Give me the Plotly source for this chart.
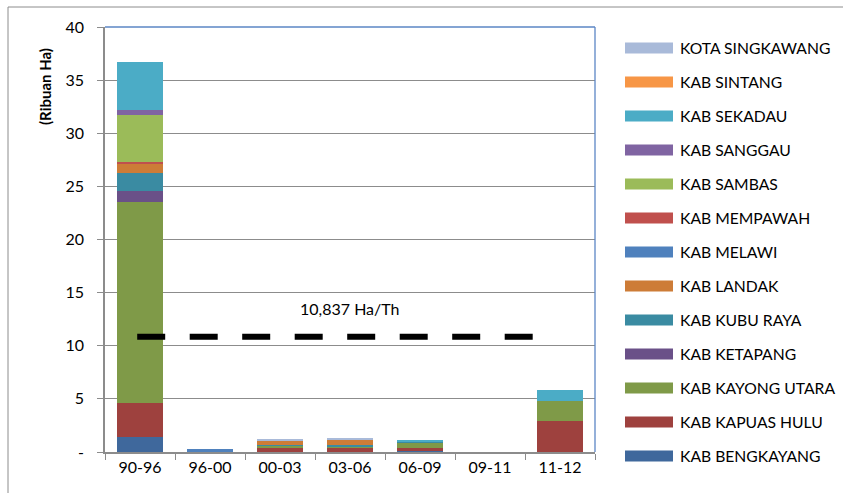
import plotly.graph_objects as go

# ---- data (thousand ha) ----
categories = ["90-96", "96-00", "00-03", "03-06", "06-09", "09-11", "11-12"]

kab_bengkayang   = [1.45, 0.00, 0.00, 0.00, 0.10, 0.00, 0.00]
kab_kapuas_hulu  = [3.17, 0.00, 0.35, 0.40, 0.25, 0.00, 2.92]
kab_kayong_utara = [18.89, 0.00, 0.30, 0.15, 0.50, 0.00, 1.88]
kab_ketapang     = [1.10, 0.00, 0.00, 0.00, 0.00, 0.00, 0.00]
kab_kubu_raya    = [1.63, 0.00, 0.05, 0.15, 0.10, 0.00, 0.00]
kab_landak       = [0.91, 0.00, 0.35, 0.50, 0.00, 0.00, 0.00]
kab_melawi       = [0.00, 0.25, 0.00, 0.00, 0.00, 0.00, 0.00]
kab_mempawah     = [0.19, 0.00, 0.00, 0.00, 0.00, 0.00, 0.00]
kab_sambas       = [4.42, 0.00, 0.00, 0.00, 0.00, 0.00, 0.00]
kab_sanggau      = [0.44, 0.00, 0.00, 0.00, 0.00, 0.00, 0.00]
kab_sekadau      = [4.52, 0.00, 0.00, 0.00, 0.20, 0.00, 1.04]
kab_sintang      = [0.00, 0.00, 0.00, 0.00, 0.00, 0.00, 0.00]
kota_singkawang  = [0.00, 0.00, 0.10, 0.10, 0.00, 0.00, 0.00]

series_names = ["KAB BENGKAYANG", "KAB KAPUAS HULU", "KAB KAYONG UTARA", "KAB KETAPANG",
                "KAB KUBU RAYA", "KAB LANDAK", "KAB MELAWI", "KAB MEMPAWAH", "KAB SAMBAS",
                "KAB SANGGAU", "KAB SEKADAU", "KAB SINTANG", "KOTA SINGKAWANG"]
series_values = [kab_bengkayang, kab_kapuas_hulu, kab_kayong_utara, kab_ketapang,
                 kab_kubu_raya, kab_landak, kab_melawi, kab_mempawah, kab_sambas,
                 kab_sanggau, kab_sekadau, kab_sintang, kota_singkawang]
series_colors = ["#3F689C", "#9E413E", "#7F9A48", "#6A5088", "#3A8BA2", "#CD7C37",
                 "#4F81BD", "#C0504D", "#9BBB59", "#8064A2", "#4BACC6", "#F79646", "#A9BAD9"]

average_value = 10.837
average_label = "10,837 Ha/Th"

y_tick_vals = [0, 5, 10, 15, 20, 25, 30, 35, 40]
y_tick_text = ["-", "5", "10", "15", "20", "25", "30", "35", "40"]

FONT = "Lato"

fig = go.Figure()
for name, vals, col in zip(series_names, series_values, series_colors):
    fig.add_trace(go.Bar(x=categories, y=vals, name=name, marker_color=col,
                         marker_line_width=0, width=0.66, showlegend=False))

W, H = 843, 493
L, R, T, B = 105, 248, 27, 41
pw, ph = W - L - R, H - T - B

def px_x(px):
    return (px - L) / pw

def px_y(py):
    return (H - B - py) / ph

shapes = []
# plot area border (top & right, blue)
shapes.append(dict(type="line", xref="paper", yref="paper", x0=0, x1=1, y0=1, y1=1,
                   line=dict(color="#5B86C5", width=1.3)))
shapes.append(dict(type="line", xref="paper", yref="paper", x0=1, x1=1, y0=0, y1=1,
                   line=dict(color="#5B86C5", width=1.3)))
# outer frame (left & top)
shapes.append(dict(type="line", xref="paper", yref="paper", x0=px_x(8), x1=px_x(8),
                   y0=px_y(7), y1=px_y(493), line=dict(color="#8C8C8C", width=1)))
shapes.append(dict(type="line", xref="paper", yref="paper", x0=px_x(8), x1=px_x(843),
                   y0=px_y(7), y1=px_y(7), line=dict(color="#8C8C8C", width=1)))
# average dashed line
shapes.append(dict(type="line", xref="x", yref="y", x0=-0.04, x1=5.61,
                   y0=average_value, y1=average_value,
                   line=dict(color="black", width=6, dash="28px,24.5px")))

annotations = []
annotations.append(dict(x=3.0, y=13.55, xref="x", yref="y", text=average_label,
                        showarrow=False, font=dict(family=FONT, size=16, color="#000")))
annotations.append(dict(x=px_x(45), y=px_y(87), xref="paper", yref="paper",
                        xanchor="center", yanchor="middle",
                        text="<b>(Ribuan Ha)</b>", textangle=-90, showarrow=False,
                        font=dict(family=FONT, size=15, color="#000")))

# custom legend (wide swatches, top = last series)
for i, (name, col) in enumerate(zip(series_names[::-1], series_colors[::-1])):
    yc = 48 + 34 * i
    shapes.append(dict(type="rect", xref="paper", yref="paper",
                       x0=px_x(625), x1=px_x(673), y0=px_y(yc + 5.5), y1=px_y(yc - 5.5),
                       fillcolor=col, line=dict(width=0)))
    annotations.append(dict(x=px_x(678), y=px_y(yc), xref="paper", yref="paper",
                            text=name, showarrow=False, xanchor="left", yanchor="middle",
                            font=dict(family=FONT, size=15.7, color="#000")))

fig.update_layout(
    width=W, height=H,
    margin=dict(l=L, r=R, t=T, b=B),
    paper_bgcolor="white", plot_bgcolor="white",
    barmode="stack",
    bargap=0.34,
    font=dict(family=FONT, size=16, color="#000"),
    shapes=shapes, annotations=annotations,
    xaxis=dict(type="category", showline=True, linecolor="#8C8C8C", linewidth=1.5,
               ticks="outside", tickson="boundaries", ticklen=6, tickcolor="#8C8C8C",
               showgrid=False, tickfont=dict(family=FONT, size=16, color="#000"),
               range=[-0.5, 6.5]),
    yaxis=dict(range=[0, 40], tickvals=y_tick_vals, ticktext=y_tick_text,
               showline=True, linecolor="#8C8C8C", linewidth=1.5,
               ticks="outside", ticklen=6, tickcolor="#8C8C8C",
               showgrid=True, gridcolor="#8C8C8C", gridwidth=1, zeroline=False,
               tickfont=dict(family=FONT, size=16, color="#000"), ticklabelstandoff=10),
)

fig.write_html("out.html", config={"displayModeBar": False},
               post_script="document.body.style.margin='0';")
